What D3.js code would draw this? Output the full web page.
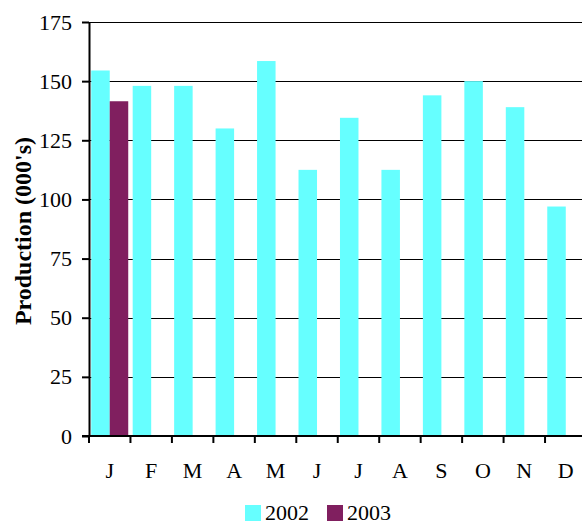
<!DOCTYPE html>
<html>
<head>
<meta charset="utf-8">
<script src="https://cdn.jsdelivr.net/npm/d3@7"></script>
<style>
  html, body { margin: 0; padding: 0; background: #fff; }
  svg { display: block; }
  svg text { font-family: "Liberation Serif", "Times New Roman", Tinos, "DejaVu Serif", serif !important; }
</style>
</head>
<body>
<svg id="chart" width="582" height="524"></svg>
<script>
const months = ["J", "F", "M", "A", "M", "J", "J", "A", "S", "O", "N", "D"];
const seriesNames = ["2002", "2003"];
const values2002 = [154.5, 148, 148, 130, 158.5, 112.5, 134.5, 112.5, 144, 150, 139, 97];
const values2003 = [141.5, null, null, null, null, null, null, null, null, null, null, null];
const yTicks = [0, 25, 50, 75, 100, 125, 150, 175];
const colors = ["#66FFFF", "#801F5F"];

(function () {
const FONT = "'Liberation Serif', 'Times New Roman', Tinos, 'DejaVu Serif', serif";
const svg = d3.select("#chart");
const mLeft = 89, mRight = 586.5, mTop = 22, mBottom = 436;

const x = d3.scaleBand().domain(d3.range(months.length)).range([mLeft, mRight]).padding(0);
const x1 = d3.scaleBand().domain(seriesNames).range([0, x.bandwidth()]).paddingInner(0).paddingOuter(0.12);
const y = d3.scaleLinear().domain([0, 175]).range([mBottom, mTop]);

// gridlines
svg.append("g")
  .selectAll("line")
  .data(yTicks.filter(d => d > 0))
  .join("line")
  .attr("x1", mLeft).attr("x2", mRight)
  .attr("y1", d => Math.round(y(d)) + 0.5).attr("y2", d => Math.round(y(d)) + 0.5)
  .attr("stroke", "#000").attr("stroke-width", 1.2);

// bars
const series = [values2002, values2003];
series.forEach((vals, si) => {
  svg.append("g")
    .selectAll("rect")
    .data(vals.map((v, i) => ({ i, v })).filter(d => d.v != null))
    .join("rect")
    .attr("x", d => x(d.i) + x1(seriesNames[si]))
    .attr("width", x1.bandwidth())
    .attr("y", d => y(d.v))
    .attr("height", d => y(0) - y(d.v))
    .attr("fill", colors[si]);
});

// y axis
const yAxis = svg.append("g")
  .attr("transform", `translate(${mLeft},0)`)
  .call(d3.axisLeft(y).tickValues(yTicks).tickSize(7).tickPadding(10).tickSizeOuter(0));
yAxis.attr("font-family", FONT).attr("font-size", 22);
yAxis.select(".domain").attr("stroke", "#000").attr("stroke-width", 2);
yAxis.selectAll(".tick line").attr("stroke", "#000").attr("stroke-width", 2);
yAxis.selectAll(".tick text")
  .style("font-family", FONT)
  .style("font-size", "22px").attr("fill", "#000");

// x axis (ticks on band boundaries)
const xAxisG = svg.append("g").attr("transform", `translate(0,${mBottom})`);
xAxisG.append("line")
  .attr("x1", mLeft - 7).attr("x2", mRight)
  .attr("y1", 0).attr("y2", 0)
  .attr("stroke", "#000").attr("stroke-width", 2);
xAxisG.selectAll(".xtick")
  .data(d3.range(months.length + 1))
  .join("line")
  .attr("class", "xtick")
  .attr("x1", i => i < months.length ? x(i) : mRight)
  .attr("x2", i => i < months.length ? x(i) : mRight)
  .attr("y1", 0).attr("y2", 7)
  .attr("stroke", "#000").attr("stroke-width", 2);
xAxisG.selectAll(".xlabel")
  .data(months)
  .join("text")
  .attr("class", "xlabel")
  .attr("x", (d, i) => x(i) + x.bandwidth() / 2)
  .attr("y", 42)
  .attr("text-anchor", "middle")
  .style("font-family", FONT)
  .style("font-size", "22px")
  .attr("fill", "#000")
  .text(d => d);

// y label
svg.append("text")
  .attr("transform", "translate(31,231) rotate(-90)")
  .attr("text-anchor", "middle")
  .style("font-family", FONT)
  .style("font-size", "24px")
  .style("font-weight", "bold")
  .attr("fill", "#000")
  .text("Production (000's)");

// legend
const legend = svg.append("g");
const legendItems = [{ name: seriesNames[0], x: 245 }, { name: seriesNames[1], x: 327 }];
legendItems.forEach((it, i) => {
  legend.append("rect")
    .attr("x", it.x).attr("y", 505).attr("width", 16).attr("height", 16)
    .attr("fill", colors[i]);
  legend.append("text")
    .attr("x", it.x + 20).attr("y", 520)
    .style("font-family", FONT)
    .style("font-size", "22px")
    .attr("fill", "#000")
    .text(it.name);
});
})();
</script>
</body>
</html>
